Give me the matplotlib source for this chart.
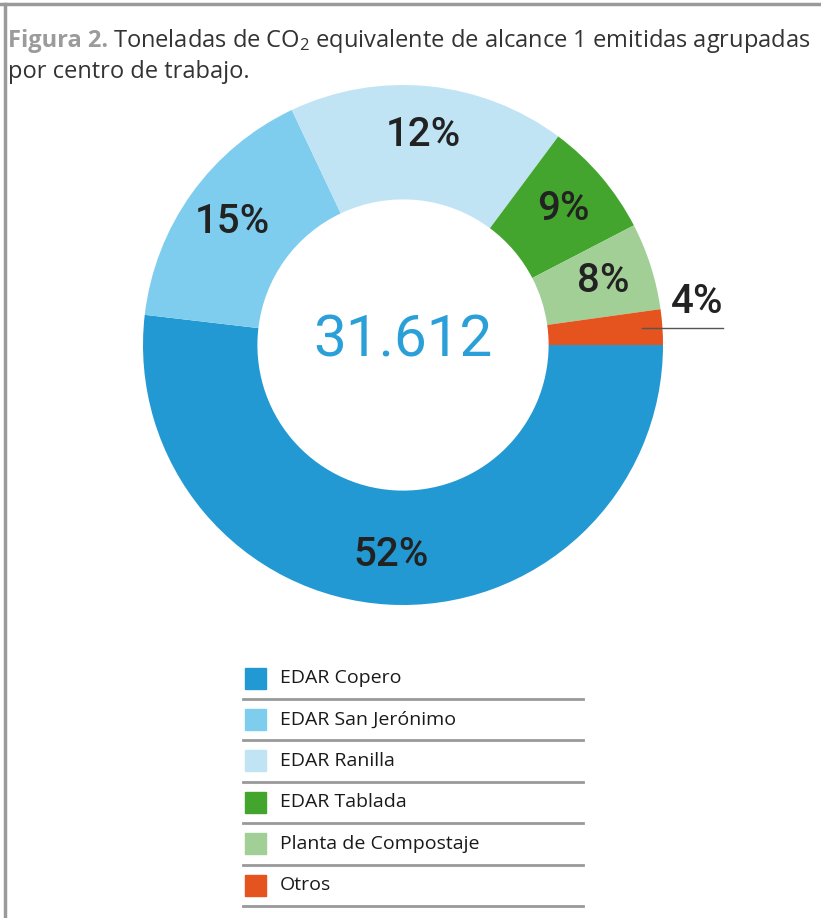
import matplotlib
matplotlib.use('Agg')
from matplotlib import pyplot as plt
from matplotlib.patches import Rectangle
import numpy as np

# data
centros = ['EDAR Copero', 'EDAR San Jerónimo', 'EDAR Ranilla',
           'EDAR Tablada', 'Planta de Compostaje', 'Otros']
# wedge sizes as drawn in the source figure (%)
cuota = [51.8, 16.1, 17.2, 7.2, 5.4, 2.2]
# percentages printed on the chart
etiquetas = ['52%', '15%', '12%', '9%', '8%', '4%']
total = '31.612'

colores = ['#2399d3', '#7fcdee', '#c0e4f4', '#43a52d', '#a2cf95', '#e5531f']

W, H = 821, 918
plt.rcParams['font.family'] = ['Open Sans', 'DejaVu Sans']
plt.rcParams['mathtext.fontset'] = 'custom'
plt.rcParams['mathtext.rm'] = 'Open Sans'
plt.rcParams['mathtext.default'] = 'regular'
cond = ['Roboto', 'DejaVu Sans']

fig = plt.figure(figsize=(W / 100, H / 100), dpi=100)

# frame (top and left grey rules)
fig.add_artist(plt.Line2D([0, 1], [1 - 3.5 / H, 1 - 3.5 / H], color='#9a9a9a', lw=2.5))
fig.add_artist(plt.Line2D([5 / W, 5 / W], [0, 1 - 3.5 / H], color='#9a9a9a', lw=2.5))

# title, two pieces on first line
renderer = fig.canvas.get_renderer()
t1 = fig.text(8 / W, 1 - 47 / H, 'Figura 2.', fontsize=17, fontweight='bold',
              color='#9b9b9b', va='baseline')
bb = t1.get_window_extent(renderer=renderer)
fig.text(bb.x1 / W + 5 / W, 1 - 47 / H,
         'Toneladas de CO$_2$ equivalente de alcance 1 emitidas agrupadas',
         fontsize=17, color='#333333', va='baseline')
fig.text(8 / W, 1 - 78 / H, 'por centro de trabajo.', fontsize=17,
         color='#333333', va='baseline')

# donut
cx, cy, R = 403, 345, 260
ax = fig.add_axes([(cx - R) / W, (H - cy - R) / H, 2 * R / W, 2 * R / H])
wedges, _ = ax.pie(cuota, colors=colores, startangle=0, counterclock=False,
                   radius=1, wedgeprops=dict(width=0.44, edgecolor='none'))
ax.set_xlim(-1, 1)
ax.set_ylim(-1, 1)
ax.axis('off')

for w, lab in zip(wedges[:-1], etiquetas[:-1]):
    ang = np.deg2rad((w.theta1 + w.theta2) / 2)
    ax.text(0.81 * np.cos(ang), 0.81 * np.sin(ang), lab, family=cond,
            fontsize=29, fontweight='medium', color='#222222',
            ha='center', va='center')

# small slice: label outside with leader line
w = wedges[-1]
ang = np.deg2rad((w.theta1 + w.theta2) / 2)
ly = 0.92 * np.sin(ang)
ax.plot([0.92 * np.cos(ang), 1.23], [ly, ly], color='#555555', lw=1, clip_on=False)
ax.text(1.13, ly + 0.03, etiquetas[-1], family=cond, fontsize=29,
        fontweight='medium', color='#222222', ha='center', va='bottom',
        clip_on=False)

ax.text(0, 0.015, total, family=cond, fontsize=42, color='#2a9fd8',
        ha='center', va='center')

# legend with separators
lx0, ly0, lw_, lh_ = 240, 655, 350, 257
lg = fig.add_axes([lx0 / W, (H - ly0 - lh_) / H, lw_ / W, lh_ / H])
lg.set_xlim(0, lw_)
lg.set_ylim(lh_, 0)
lg.axis('off')
paso = 41.4
for i, (nombre, c) in enumerate(zip(centros, colores)):
    yc = 23 + paso * i
    lg.add_patch(Rectangle((5, yc - 10.5), 21, 21, color=c))
    lg.text(40, yc, nombre, fontsize=14, color='#1a1a1a', va='center')
    lg.plot([3, 343], [yc + 21, yc + 21], color='#999999', lw=2)

fig.savefig('out.png', dpi=100)
